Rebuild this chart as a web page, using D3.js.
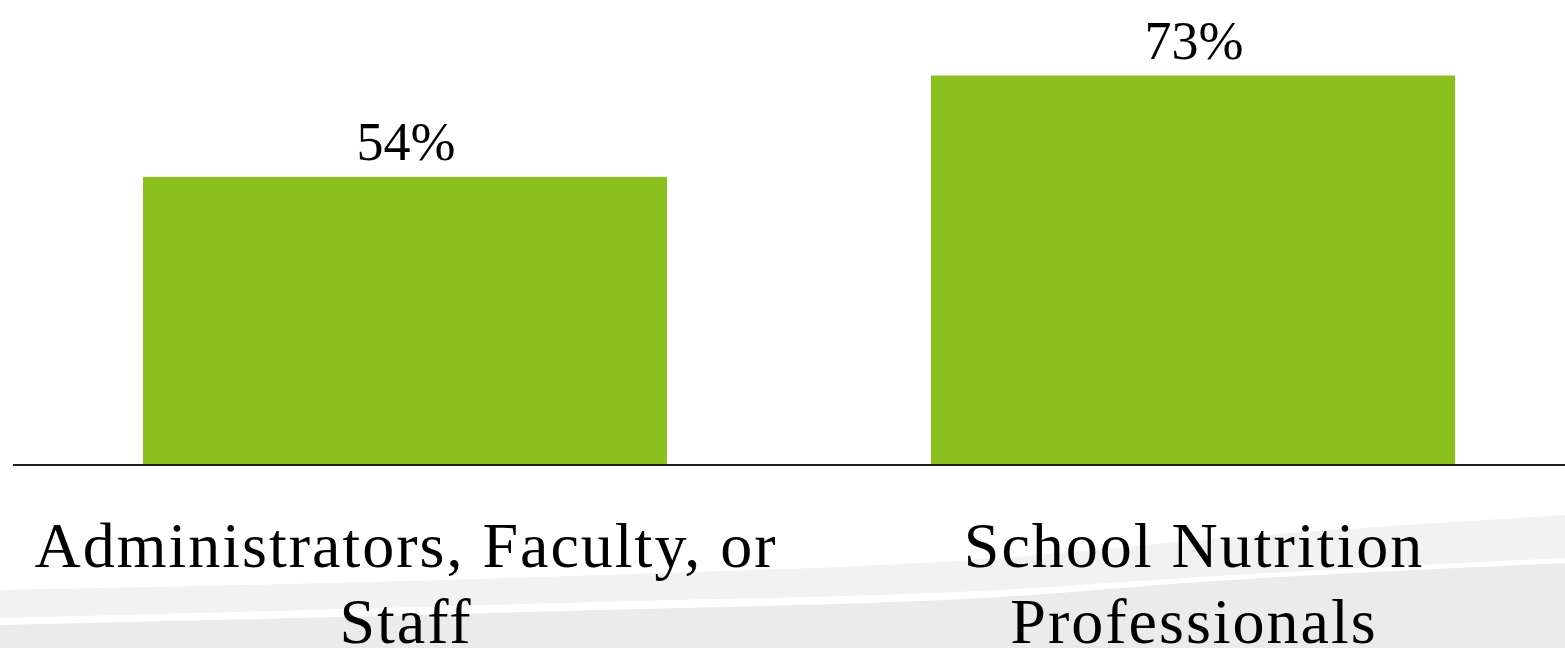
<html>
<head>
  <meta http-equiv="Content-Type" content="text/html; charset=utf-8" />
  <title>Bar chart</title>
  <script src="https://cdn.jsdelivr.net/npm/d3@7"></script>
  <style>
      body {
          margin: 0;
          background: white;
          font-family: "Liberation Serif", "DejaVu Serif", serif;
      }
      svg {
          display: block;
      }
  </style>
</head>
<body>
<div id="chart"></div>
<script>
// chart data
var categories = [["Administrators, Faculty, or", "Staff"], ["School Nutrition", "Professionals"]];
var values = [54, 73];
var valueLabels = ["54%", "73%"];

var width = 1565,
    height = 648,
    baseline = 465;

var svg = d3.select("#chart").append("svg")
    .attr("width", width)
    .attr("height", height);

// background swoosh at the bottom
var swoosh = d3.line().curve(d3.curveMonotoneX);
var topEdge = [[0, 590], [600, 575], [1000, 558], [1200, 540], [1565, 515]];
var stripeTop = [[0, 618], [600, 602], [1000, 590], [1200, 577], [1565, 558]];
var stripeBot = [[0, 625], [600, 610], [1000, 597], [1200, 582], [1565, 563]];

function band(upper, lower) {
    return "M" + swoosh(upper).slice(1) + "L" + swoosh(lower.slice().reverse()).slice(1) + "Z";
}
svg.append("path")
    .attr("d", band(topEdge, stripeTop))
    .attr("fill", "#f2f2f2");
svg.append("path")
    .attr("d", band(stripeBot, [[0, height], [1565, height]]))
    .attr("fill", "#ebebeb");

var x = d3.scaleBand()
    .domain(d3.range(values.length))
    .range([11, 1587])
    .paddingInner(0.335)
    .paddingOuter(0.1675);

var y = d3.scaleLinear()
    .domain([0, 100])
    .range([baseline, baseline - 533.5]);

svg.selectAll("rect.bar")
    .data(values)
    .enter().append("rect")
    .attr("class", "bar")
    .attr("x", function(d, i) { return x(i); })
    .attr("y", function(d) { return y(d); })
    .attr("width", x.bandwidth())
    .attr("height", function(d) { return y(0) - y(d); })
    .attr("fill", "#8cc01e");

svg.append("line")
    .attr("x1", 13)
    .attr("x2", width)
    .attr("y1", baseline)
    .attr("y2", baseline)
    .attr("stroke", "#222")
    .attr("stroke-width", 2);

svg.selectAll("text.value")
    .data(values)
    .enter().append("text")
    .attr("class", "value")
    .attr("x", function(d, i) { return x(i) + x.bandwidth() / 2 + 1; })
    .attr("y", function(d) { return y(d) - 17; })
    .attr("text-anchor", "middle")
    .attr("font-size", 54)
    .attr("fill", "#000")
    .text(function(d, i) { return valueLabels[i]; });

var cat = svg.selectAll("text.cat")
    .data(categories)
    .enter().append("text")
    .attr("class", "cat")
    .attr("text-anchor", "middle")
    .attr("font-size", 64)
    .attr("letter-spacing", 2)
    .attr("fill", "#000");

cat.selectAll("tspan")
    .data(function(d, i) { return d.map(function(s) { return { s: s, i: i }; }); })
    .enter().append("tspan")
    .attr("x", function(d) { return x(d.i) + x.bandwidth() / 2 + 1; })
    .attr("y", function(d, j) { return 567 + j * 76; })
    .text(function(d) { return d.s; });
</script>
</body>
</html>
